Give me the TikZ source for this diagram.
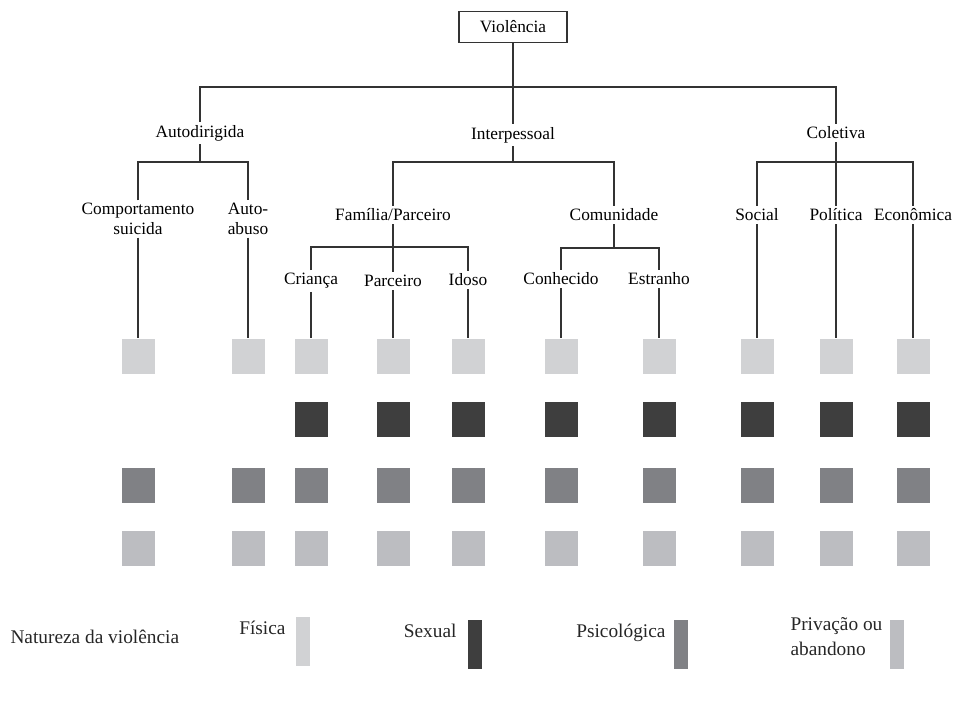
\documentclass[tikz,border=0pt]{standalone}
\usepackage{fontspec}
\setmainfont{Liberation Serif}
\usepackage{tikz}
\usetikzlibrary{positioning,calc}

\definecolor{fisica}{HTML}{D1D2D4}
\definecolor{sexual}{HTML}{3E3E3E}
\definecolor{psico}{HTML}{808185}
\definecolor{privacao}{HTML}{BCBDC1}
\definecolor{linha}{HTML}{333333}

\tikzset{
    lbl/.style={inner sep=2pt, font=\fontsize{13}{14.5}\selectfont, align=center},
    sq/.style={minimum width=24.75pt, minimum height=26.25pt, inner sep=0pt},
    bar/.style={minimum width=10.5pt, minimum height=36.75pt, inner sep=0pt},
    leg/.style={inner sep=0pt, text=black!85, font=\fontsize{14.5}{18.5}\selectfont},
}

\begin{document}
\begin{tikzpicture}[x=0.75pt, y=-0.75pt, line width=0.8pt]
    \useasboundingbox (0,0) rectangle (953,711);
    % arvore
    \node[draw=linha, minimum width=81pt, minimum height=23.25pt, inner sep=0pt, font=\fontsize{13}{14.5}\selectfont] (viol) at (513,27) {Violência};
    \node[lbl] (autod) at (200,133) {Autodirigida};
    \node[lbl] (inter) at (513,135) {Interpessoal};
    \node[lbl] (colet) at (836,133) {Coletiva};
    \node[lbl] (comp) at (138,219) {Comportamento\\suicida};
    \node[lbl] (abuso) at (248,219) {Auto-\\abuso};
    \node[lbl] (fam) at (393,215) {Família/Parceiro};
    \node[lbl] (comu) at (614,215) {Comunidade};
    \node[lbl] (soc) at (757,215) {Social};
    \node[lbl] (pol) at (836,215) {Política};
    \node[lbl] (econ) at (913,215) {Econômica};
    \node[lbl] (cri) at (311,281) {Criança};
    \node[lbl] (parc) at (393,281) {Parceiro};
    \node[lbl] (idoso) at (468,280) {Idoso};
    \node[lbl] (conh) at (561,279) {Conhecido};
    \node[lbl] (estr) at (659,279) {Estranho};
    \coordinate (top) at (513,87);
    \coordinate (ja) at (200,162);
    \coordinate (ji) at (513,162);
    \coordinate (jc) at (836,162);
    \coordinate (jf) at (393,247);
    \coordinate (jm) at (614,248);
    \draw[linha] (viol.south) -- (inter.north);
    \draw[linha] (autod.north) |- (top) -| (colet.north);
    \draw[linha] (autod.south) -- (ja);
    \draw[linha] (comp.north) |- (ja) -| (abuso.north);
    \draw[linha] (inter.south) -- (ji);
    \draw[linha] (fam.north) |- (ji) -| (comu.north);
    \draw[linha] (colet.south) -- (pol.north);
    \draw[linha] (soc.north) |- (jc) -| (econ.north);
    \draw[linha] (fam.south) -- (parc.north);
    \draw[linha] (cri.north) |- (jf) -| (idoso.north);
    \draw[linha] (comu.south) -- (jm);
    \draw[linha] (conh.north) |- (jm) -| (estr.north);
    % quadrados
    \foreach \x [count=\i] in {138,248,311,393,468,561,659,757,836,913} {
        \node[sq, fill=fisica] (fis\i) at (\x,356) {};
        \node[sq, fill=psico] (psi\i) at (\x,485) {};
        \node[sq, fill=privacao] (pri\i) at (\x,548) {};
    }
    \foreach \x [count=\i from 3] in {311,393,468,561,659,757,836,913}
        \node[sq, fill=sexual] (sex\i) at (\x,419) {};
    \foreach \a/\b in {comp/1,abuso/2,cri/3,parc/4,idoso/5,conh/6,estr/7,soc/8,pol/9,econ/10}
        \draw[linha] (\a.south) -- (fis\b.north);
    % legenda
    \node[leg, anchor=west] (nat) at (10,637) {Natureza da violência};
    \node[bar, fill=fisica] (lfis) at (303,641) {};
    \node[bar, fill=sexual] (lsex) at (475,644) {};
    \node[bar, fill=psico] (lpsi) at (681,644) {};
    \node[bar, fill=privacao] (lpri) at (897,644) {};
    \node[leg, anchor=east] (tfis) at (286,628) {Física};
    \node[leg, anchor=east] (tsex) at (457,631) {Sexual};
    \node[leg, anchor=east] (tpsi) at (666,633) {Psicológica};
    \node[leg, anchor=north west, align=left] (tpri) at (790,617) {Privação ou\\abandono};
\end{tikzpicture}
\end{document}
